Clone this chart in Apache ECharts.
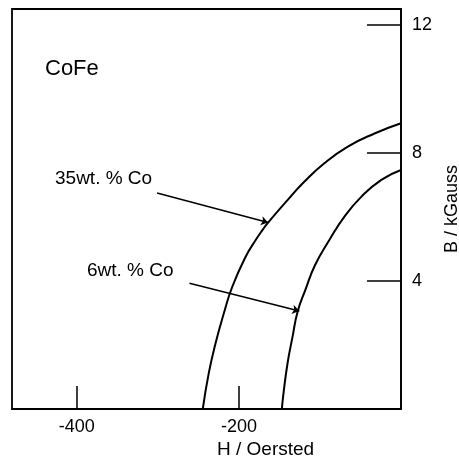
<!DOCTYPE html>
<html><head><meta charset="utf-8">
<script src="https://cdn.jsdelivr.net/npm/echarts@6/dist/echarts.min.js"></script>
<style>html,body{margin:0;padding:0;background:#fff}#c{width:459px;height:459px}</style>
</head><body><div id="c"></div>
<script>
// H (Oersted), B (kGauss)
const co35H = [-244.6, -237.2, -228.9, -218.6, -208.2, -191.7, -179.3, -171, -164.8, -140, -119.4, -94.6, -65.6, -32.7, 0];
const co35B = [0, 1.12, 2.05, 2.99, 3.82, 4.76, 5.28, 5.59, 5.8, 6.53, 7.1, 7.68, 8.2, 8.61, 8.93];
const co6H = [-147, -145.5, -140, -133.8, -127.6, -118, -106, -88.4, -69.8, -49.1, -24.3, 0];
const co6B = [0, 0.38, 1.43, 2.26, 3.04, 3.72, 4.5, 5.28, 6.01, 6.63, 7.16, 7.47];
const xTicks = [-400, -200];
const yTicks = [4, 8, 12];
const labels = ['35wt. % Co', '6wt. % Co'];
// arrow annotations [startH, startB, endH, endB]
const arrow35 = [-301, 6.75, -164, 5.83];
const arrow6 = [-261, 3.93, -125.5, 3.06];

const zip = (a, b) => a.map((v, i) => [v, b[i]]);
const font = 'Liberation Sans, Arial, sans-serif';
const chart = echarts.init(document.getElementById('c'));
chart.setOption({
  animation: false,
  grid: {left: 12, right: 58, top: 9, bottom: 50, outerBoundsMode: 'none', containLabel: false,
    show: true, borderColor: '#000', borderWidth: 1.8, backgroundColor: 'transparent'},
  xAxis: {
    type: 'value', min: -480, max: 0,
    axisLine: {show: true, lineStyle: {color: '#000', width: 1.5}},
    axisTick: {show: true, inside: true, length: 23, customValues: xTicks, lineStyle: {color: '#000', width: 1.5}},
    axisLabel: {show: true, customValues: xTicks, color: '#000', fontSize: 18, fontFamily: font, margin: 9},
    splitLine: {show: false}
  },
  yAxis: {
    type: 'value', position: 'right', min: 0, max: 12.5,
    name: 'B / kGauss', nameLocation: 'middle', nameRotate: 90, nameGap: 42,
    nameTextStyle: {color: '#000', fontSize: 18, fontFamily: font},
    axisLine: {show: true, lineStyle: {color: '#000', width: 1.5}},
    axisTick: {show: true, inside: true, length: 34, customValues: yTicks, lineStyle: {color: '#000', width: 1.5}},
    axisLabel: {show: true, customValues: yTicks, color: '#000', fontSize: 18, fontFamily: font, margin: 11},
    splitLine: {show: false}
  },
  graphic: [
    {type: 'text', left: 45, top: 58, style: {text: 'CoFe', fontSize: 22, fontFamily: font, fill: '#000'}},
    {type: 'text', left: 55, top: 169, style: {text: labels[0], fontSize: 19, fontFamily: font, fill: '#000'}},
    {type: 'text', left: 87, top: 261, style: {text: labels[1], fontSize: 19, fontFamily: font, fill: '#000'}},
    {type: 'text', left: 217, top: 440, style: {text: 'H / Oersted', fontSize: 19, fontFamily: font, fill: '#000'}}
  ],
  series: [
    {
      type: 'line', data: zip(co35H, co35B), smooth: 0.5, symbol: 'none',
      lineStyle: {color: '#000', width: 2},
      markLine: {
        silent: true, symbol: ['none', 'arrow'], symbolSize: 7, label: {show: false},
        lineStyle: {color: '#000', width: 1.5, type: 'solid'},
        data: [[{coord: [arrow35[0], arrow35[1]]}, {coord: [arrow35[2], arrow35[3]]}]]
      }
    },
    {
      type: 'line', data: zip(co6H, co6B), smooth: 0.5, symbol: 'none',
      lineStyle: {color: '#000', width: 2},
      markLine: {
        silent: true, symbol: ['none', 'arrow'], symbolSize: 7, label: {show: false},
        lineStyle: {color: '#000', width: 1.5, type: 'solid'},
        data: [[{coord: [arrow6[0], arrow6[1]]}, {coord: [arrow6[2], arrow6[3]]}]]
      }
    }
  ]
});
</script></body></html>
